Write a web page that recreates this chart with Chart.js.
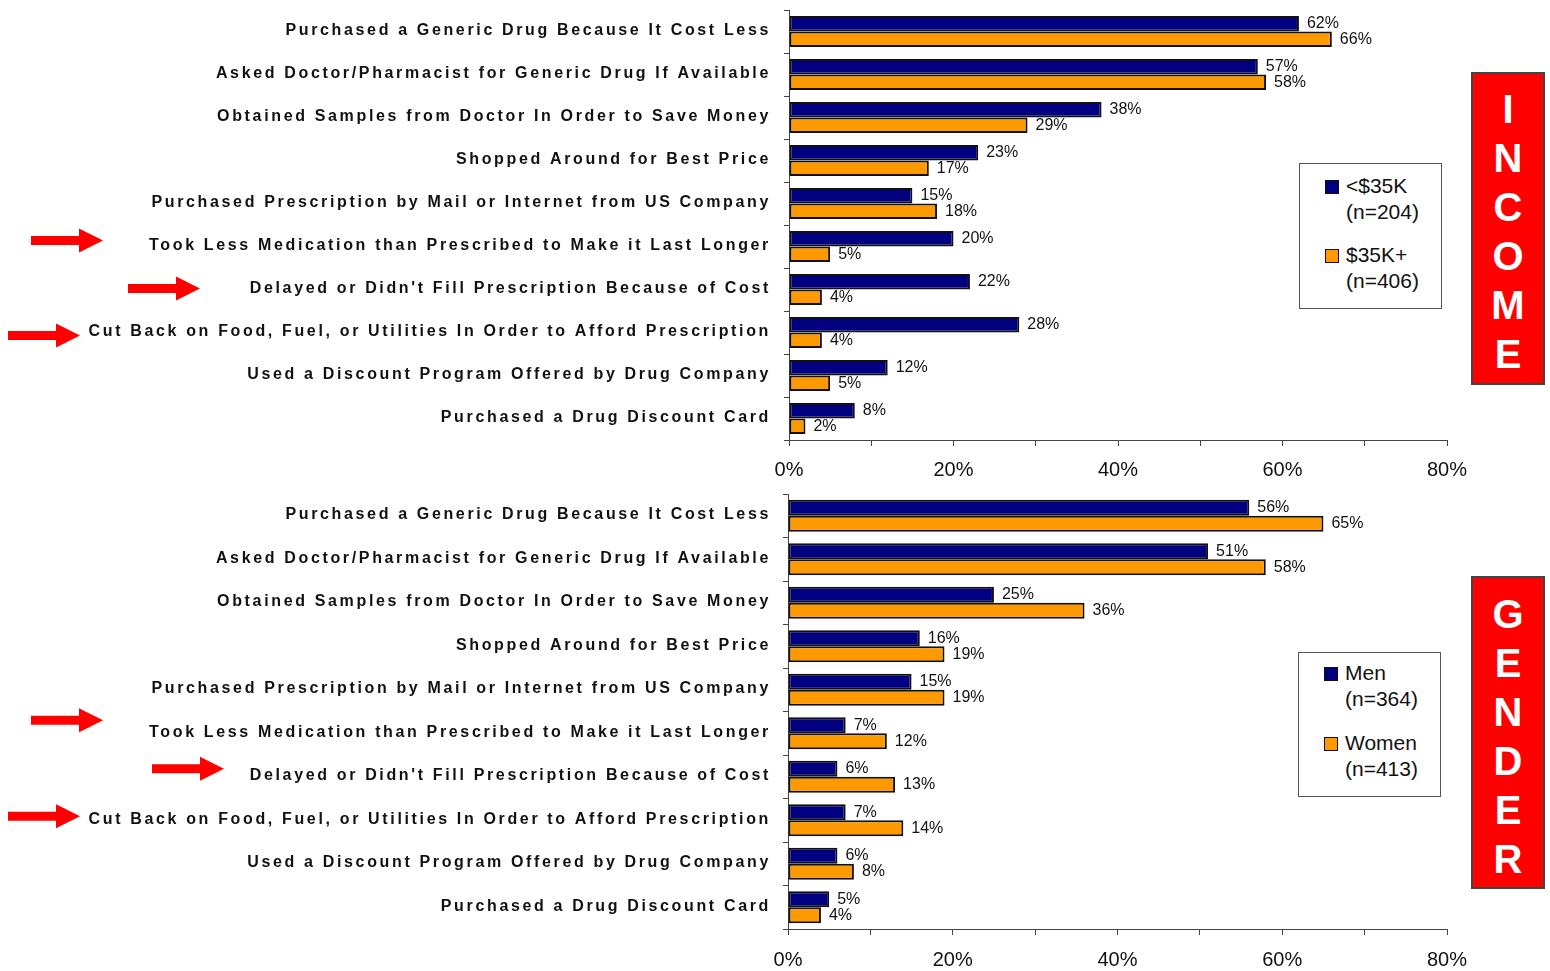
<!DOCTYPE html>
<html>
<head>
<meta charset="utf-8">
<script src="https://cdn.jsdelivr.net/npm/chart.js@4.4.1/dist/chart.umd.min.js"></script>
<style>
  html, body { margin: 0; padding: 0; background: #fff; }
  body { width: 1550px; height: 971px; position: relative; overflow: hidden;
         font-family: "Liberation Sans", Arial, sans-serif; color: #111; }
  .panel { position: absolute; left: 0; }
  .legend { position: absolute; border: 1px solid #555; background: #fff; box-sizing: border-box; }
  .legend .txt { position: absolute; font-size: 21px; line-height: 26px; white-space: nowrap; }
  .legend .sw { position: absolute; width: 14px; height: 14px; box-sizing: border-box; border: 1px solid #111; }
  .tag { position: absolute; width: 74px; background: #ff0000; border: 2px solid #444; box-sizing: border-box;
         color: #fff; font-weight: bold; font-size: 40px; text-align: center; }
  .tag div { height: 49px; line-height: 49px; }
</style>
</head>
<body>

<div class="panel" style="top:0"><canvas id="income" width="1550" height="485"></canvas></div>
<div class="panel" style="top:485px"><canvas id="gender" width="1550" height="486"></canvas></div>

<div class="legend" id="incomeLegend" style="left:1299px;top:163px;width:143px;height:146px"></div>
<div class="legend" id="genderLegend" style="left:1298px;top:652px;width:143px;height:145px"></div>

<div class="tag" id="incomeTag" style="left:1471px;top:72px;height:313px;padding-top:11px"></div>
<div class="tag" id="genderTag" style="left:1471px;top:576px;height:313px;padding-top:12px"></div>

<script>
// ---- data ----
const categories = [
  'Purchased a Generic Drug Because It Cost Less',
  'Asked Doctor/Pharmacist for Generic Drug If Available',
  'Obtained Samples from Doctor In Order to Save Money',
  'Shopped Around for Best Price',
  'Purchased Prescription by Mail or Internet from US Company',
  'Took Less Medication than Prescribed to Make it Last Longer',
  "Delayed or Didn't Fill Prescription Because of Cost",
  'Cut Back on Food, Fuel, or Utilities In Order to Afford Prescription',
  'Used a Discount Program Offered by Drug Company',
  'Purchased a Drug Discount Card'
];
const flagged = [5, 6, 7];   // rows marked with an arrow

const incomeLow  = [62, 57, 38, 23, 15, 20, 22, 28, 12, 8];
const incomeHigh = [66, 58, 29, 17, 18, 5, 4, 4, 5, 2];
const men        = [56, 51, 25, 16, 15, 7, 6, 7, 6, 5];
const women      = [65, 58, 36, 19, 19, 12, 13, 14, 8, 4];

const incomeNames = ['<$35K', '$35K+'];
const incomeBases = ['(n=204)', '(n=406)'];
const genderNames = ['Men', 'Women'];
const genderBases = ['(n=364)', '(n=413)'];

const xTicks = ['0%', '20%', '40%', '60%', '80%'];

// ---- look ----
const NAVY = '#000080';
const ORANGE = '#ff9900';
const FONT = '"Liberation Sans", Arial, sans-serif';

// category text + red arrows to the left of the plot
const sideLabels = {
  id: 'sideLabels',
  afterDraw(chart, args, opts) {
    const ctx = chart.ctx;
    const y = chart.scales.y;
    ctx.save();
    ctx.font = 'bold 16px ' + FONT;
    ctx.letterSpacing = '2.65px';
    ctx.fillStyle = '#111';
    ctx.textAlign = 'right';
    ctx.textBaseline = 'middle';
    chart.data.labels.forEach((lab, i) => {
      ctx.fillText(lab, opts.right, y.getPixelForValue(i) - 1);
    });
    ctx.letterSpacing = '0px';

    // arrows
    ctx.fillStyle = '#ff0000';
    flagged.forEach((row, k) => {
      const tip = opts.arrowTips[k];
      const cy = y.getPixelForValue(row) + opts.arrowDy[k];
      const len = 72, head = 24, half = 12, shaft = 4.5;
      ctx.beginPath();
      ctx.moveTo(tip - len, cy - shaft);
      ctx.lineTo(tip - head, cy - shaft);
      ctx.lineTo(tip - head, cy - half);
      ctx.lineTo(tip, cy);
      ctx.lineTo(tip - head, cy + half);
      ctx.lineTo(tip - head, cy + shaft);
      ctx.lineTo(tip - len, cy + shaft);
      ctx.closePath();
      ctx.fill();
    });
    ctx.restore();
  }
};

// percent labels just past the end of each bar
const valueLabels = {
  id: 'valueLabels',
  afterDatasetsDraw(chart) {
    const ctx = chart.ctx;
    ctx.save();
    ctx.font = '16px ' + FONT;
    ctx.fillStyle = '#111';
    ctx.textAlign = 'left';
    ctx.textBaseline = 'middle';
    chart.data.datasets.forEach((ds, di) => {
      chart.getDatasetMeta(di).data.forEach((bar, i) => {
        ctx.fillText(ds.data[i] + '%', bar.x + 8, bar.y);
      });
    });
    ctx.restore();
  }
};

function makeChart(id, first, second, names, cfg) {
  return new Chart(document.getElementById(id), {
    type: 'bar',
    data: {
      labels: categories,
      datasets: [
        { label: names[0], data: first, backgroundColor: NAVY },
        { label: names[1], data: second, backgroundColor: ORANGE }
      ]
    },
    options: {
      indexAxis: 'y',
      responsive: false,
      animation: false,
      devicePixelRatio: 1,
      layout: { padding: { top: cfg.top, left: cfg.left - 10, right: 1550 - cfg.right, bottom: 0 } },
      datasets: {
        bar: {
          categoryPercentage: cfg.catPct,
          barPercentage: 1,
          borderColor: '#111',
          borderWidth: 2,
          borderSkipped: false
        }
      },
      plugins: {
        legend: { display: false },
        tooltip: { enabled: false },
        sideLabels: { right: 771, arrowTips: cfg.arrowTips, arrowDy: cfg.arrowDy }
      },
      scales: {
        x: {
          min: 0, max: 80,
          border: { display: true, color: '#444', width: 1 },
          grid: { drawOnChartArea: false, drawTicks: true, tickLength: 6, color: '#444' },
          ticks: {
            stepSize: 10,
            padding: cfg.tickPad,
            maxRotation: 0,
            autoSkip: false,
            color: '#111',
            font: { family: FONT, size: 20 },
            callback: (v, i) => (i % 2 === 0 ? xTicks[i / 2] : '')
          },
          afterFit(s) { s.height = cfg.bottomSpace; }
        },
        y: {
          border: { display: true, color: '#444', width: 1 },
          grid: { offset: true, drawOnChartArea: false, drawTicks: true, tickLength: 5, color: '#444' },
          ticks: { display: false },
          afterFit(s) { s.width = 10; }
        }
      }
    },
    plugins: [valueLabels, sideLabels]
  });
}

makeChart('income', incomeLow, incomeHigh, incomeNames, {
  top: 10, left: 789, right: 1447, bottomSpace: 45, catPct: 0.72, tickPad: 12,
  arrowTips: [103, 200, 80], arrowDy: [-6, -1, 3]
});
makeChart('gender', men, women, genderNames, {
  top: 9, left: 788, right: 1447, bottomSpace: 42, catPct: 0.74, tickPad: 13,
  arrowTips: [103, 224, 80], arrowDy: [-13, -8, -4]
});

// legend boxes
function buildLegend(id, names, bases, rows) {
  const box = document.getElementById(id);
  const colors = [NAVY, ORANGE];
  names.forEach((n, i) => {
    const r = rows[i];
    box.insertAdjacentHTML('beforeend',
      `<div class="sw" style="left:25px;top:${r + 7}px;background:${colors[i]}"></div>
       <div class="txt" style="left:46px;top:${r}px">${n.replace('<', '&lt;')}<br>${bases[i]}</div>`);
  });
}
buildLegend('incomeLegend', incomeNames, incomeBases, [9, 78]);
buildLegend('genderLegend', genderNames, genderBases, [7, 77]);

// red side tags
function buildTag(id, word) {
  document.getElementById(id).innerHTML = word.split('').map(c => `<div>${c}</div>`).join('');
}
buildTag('incomeTag', 'INCOME');
buildTag('genderTag', 'GENDER');
</script>
</body>
</html>
